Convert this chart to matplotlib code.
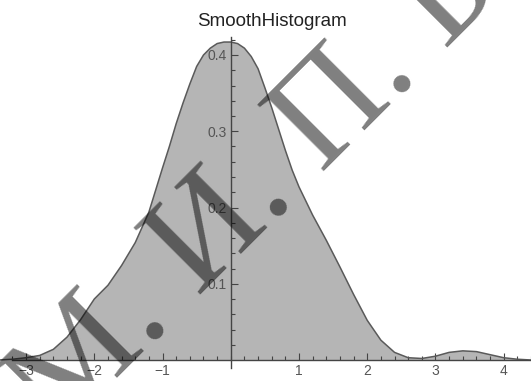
import matplotlib
matplotlib.use('Agg')
import matplotlib.pyplot as plt
from matplotlib.font_manager import FontProperties
import glob
import os

# density values
xs = [-3.4, -3.2, -3.0, -2.8, -2.6, -2.4, -2.2, -2.0, -1.8, -1.6, -1.4, -1.2,
      -1.0, -0.9, -0.8, -0.7, -0.6, -0.5, -0.4, -0.3, -0.2, -0.1, 0.0,
      0.1, 0.2, 0.3, 0.4, 0.5, 0.6, 0.7, 0.8, 0.9, 1.0,
      1.2, 1.4, 1.6, 1.8, 2.0, 2.2, 2.4, 2.6, 2.8, 3.0, 3.2, 3.4, 3.6, 3.8,
      4.0, 4.2, 4.4]
density = [0.000, 0.001, 0.003, 0.006, 0.014, 0.030, 0.053, 0.080, 0.098, 0.124, 0.154, 0.194,
           0.252, 0.280, 0.310, 0.337, 0.362, 0.385, 0.400, 0.409, 0.415, 0.417, 0.417,
           0.415, 0.409, 0.398, 0.382, 0.357, 0.331, 0.303, 0.275, 0.249, 0.227,
           0.190, 0.157, 0.122, 0.086, 0.052, 0.026, 0.010, 0.003, 0.002, 0.005, 0.010, 0.012, 0.011, 0.007,
           0.003, 0.001, 0.000]

x_ticks = [-3, -2, -1, 1, 2, 3, 4]
x_minor = [round(-3.2 + 0.2 * i, 1) for i in range(39)]
y_ticks = [0.1, 0.2, 0.3, 0.4]
y_minor = [round(0.02 * i, 2) for i in range(1, 22)]
title = 'SmoothHistogram'
watermark = 'М. И. П. Б.'


def serif_font(size):
    # a Times-like serif file, else the serif that ships with matplotlib
    found = []
    for root in ['/usr/share/fonts', '/usr/local/share/fonts', os.path.expanduser('~/.fonts')]:
        found += glob.glob(os.path.join(root, '**', 'LiberationSerif-Regular.ttf'), recursive=True)
    found.append(os.path.join(matplotlib.get_data_path(), 'fonts', 'ttf', 'DejaVuSerif.ttf'))
    for f in found:
        if os.path.exists(f):
            return FontProperties(fname=f, size=size)
    return FontProperties(family='serif', size=size)


fig = plt.figure(figsize=(5.31, 3.81), dpi=100)
ax = fig.add_axes([0, 0, 1, 1])
ax.set_xlim(-231 / 68.3, 300 / 68.3)
ax.set_ylim(-21 / 762.5, 360 / 762.5)
ax.patch.set_visible(False)

ax.fill_between(xs, density, 0, color='#b5b5b5', lw=0)
ax.plot(xs, density, color='#5a5a5a', lw=1.1)

for side in ['top', 'right']:
    ax.spines[side].set_visible(False)
ax.spines['bottom'].set_position('zero')
ax.spines['left'].set_position('zero')
ax.spines['bottom'].set_bounds(-3.21, 4.4)
ax.spines['left'].set_bounds(-0.011, 0.4235)
for side in ['bottom', 'left']:
    ax.spines[side].set_color('#444444')
    ax.spines[side].set_linewidth(1.0)

ax.set_xticks(x_ticks)
ax.set_xticklabels([str(v).replace('-', '\u2212') for v in x_ticks])
ax.set_xticks(x_minor, minor=True)
ax.set_yticks(y_ticks)
ax.set_yticklabels([f'{v:.1f}' for v in y_ticks])
ax.set_yticks(y_minor, minor=True)
ax.tick_params(which='both', direction='in', color='#444444', width=0.8)
ax.tick_params(which='major', length=5, labelsize=10, labelcolor='#555555', pad=3)
ax.tick_params(which='minor', length=3)
for lbl in ax.get_xticklabels() + ax.get_yticklabels():
    lbl.set_family('Liberation Sans')

fig.text(272 / 531, 1 - 21 / 381, title, ha='center', va='center',
         fontsize=13.5, family='Liberation Sans', color='#222222')

fig.text(57.5 / 531, -56.5 / 381, watermark, rotation=45, rotation_mode='anchor',
         ha='left', va='baseline', fontproperties=serif_font(103),
         color='black', alpha=0.5, zorder=10)

fig.savefig('out.png', dpi=100)
